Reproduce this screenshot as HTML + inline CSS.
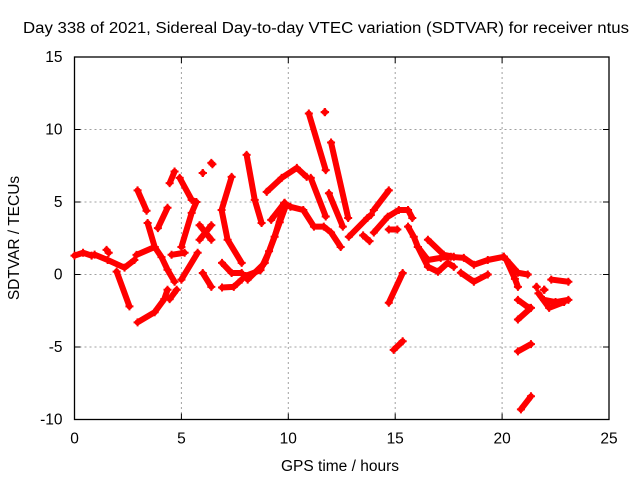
<!DOCTYPE html>
<html><head><meta charset="utf-8"><style>
body{margin:0;background:#fff}
svg{display:block;font-family:"Liberation Sans","DejaVu Sans",sans-serif}
</style></head><body>
<svg id="chart" width="640" height="480" viewBox="0 0 640 480" xmlns="http://www.w3.org/2000/svg">
<rect width="640" height="480" fill="#fff"/>
<text x="23" y="33" font-size="15.5" textLength="606" lengthAdjust="spacingAndGlyphs" fill="#000">Day 338 of 2021, Sidereal Day-to-day VTEC variation (SDTVAR) for receiver ntus</text>
<g id="grid"></g>
<g id="axes"></g>
<g id="series"></g>
<text x="340" y="471" text-anchor="middle" font-size="15.5">GPS time / hours</text>
<text transform="translate(19,238) rotate(-90)" text-anchor="middle" font-size="15.5">SDTVAR / TECUs</text>
</svg>
<script>
const xTicks=[0,5,10,15,20,25];
const yTicks=[-10,-5,0,5,10,15];
// each track: [hour, value, hour, value, ...]
const tracks=[
[0,1.3,0.4,1.5,0.8,1.3],
[0.94,1.37,1.55,1.0,2.34,0.47,2.8,1.0],
[1.5,1.7,1.6,1.5],
[1.97,0.2,2.57,-2.2],
[2.95,5.8,3.37,4.4],
[2.95,-3.3,3.75,-2.6,4.2,-1.7,4.35,-1.05],
[4.45,-1.7,4.78,-1.05],
[3.42,3.55,3.75,1.9,4.07,1.2,4.35,0.33,4.68,-0.5],
[3.9,3.2,4.35,4.6],
[2.9,1.35,3.75,1.9],
[4.45,6.3,4.68,7.1],
[4.54,1.36,5.15,1.5],
[4.92,6.66,5.48,5.15,5.7,5.0,5.48,4.25,5.0,1.9],
[5.0,-0.35,5.76,1.5],
[5.85,3.4,6.4,2.4],
[6.4,3.4,5.85,2.4],
[6.0,7.0,6.0,7.0],
[6.4,7.7,6.45,7.6],
[6.0,0.1,6.4,-0.85],
[7.35,6.73,6.88,4.45,7.16,2.4,7.82,0.8],
[6.9,0.8,7.35,0.1,7.82,0.1],
[6.9,-0.9,7.45,-0.85,7.82,-0.35],
[8.05,8.25,8.43,5.15,8.75,3.55],
[8.1,-0.35,8.9,0.8,9.36,2.6,9.83,4.95],
[8.0,-0.1,8.7,0.3,9.1,1.6,9.6,3.6,9.9,4.8],
[8.99,5.7,9.69,6.66,10.4,7.35,10.86,6.73],
[11.05,6.66,11.75,4.0],
[9.2,3.77,9.8,4.9,10.1,4.67,10.7,4.45,11.2,3.3,11.66,3.3,12.0,2.9,12.45,1.9],
[10.96,11.1,11.75,7.2],
[11.7,11.2,11.72,11.2],
[12.0,9.1,12.8,3.9],
[11.9,5.6,12.55,3.3],
[12.83,2.6,13.7,3.9,13.86,4.1],
[13.5,2.7,13.8,2.3],
[14.0,4.45,14.7,5.8],
[14.0,2.9,14.65,3.98,15.17,4.45,15.6,4.45,15.8,3.9],
[14.7,3.1,15.1,3.1],
[14.7,-1.95,15.35,0.1],
[14.93,-5.2,15.35,-4.6],
[15.6,3.3,15.87,2.6,16.06,1.9,16.53,1.0,17.13,1.15,17.6,1.22,18.21,1.15,18.68,0.67,19.33,1.0,20.08,1.22],
[16.06,1.9,16.53,0.53,17.0,0.19,17.46,0.8,17.74,0.53],
[16.53,2.4,17.27,1.36,17.74,1.22],
[18.07,0.12,18.68,-0.5,19.33,0],
[20.08,1.22,20.74,0.12,21.2,0],
[20.2,1.0,20.6,-0.3,20.74,-0.85],
[20.74,-1.75,21.25,-2.3],
[20.74,-3.1,21.35,-2.3],
[20.74,-5.3,21.35,-4.8],
[20.88,-9.3,21.35,-8.4],
[21.96,-1.75,22.5,-1.9,23.1,-1.75],
[21.7,-1.3,22.2,-2.3,22.9,-1.9],
[22.3,-0.35,23.1,-0.5],
[21.6,-0.85,21.62,-0.85],
[21.96,-1.05,21.98,-1.05]
];
const L=74.5,R=609,T=57,B=419.5,xmin=0,xmax=25,ymin=-10,ymax=15;
const sx=h=>L+(h-xmin)/(xmax-xmin)*(R-L);
const sy=v=>B-(v-ymin)/(ymax-ymin)*(B-T);
const NS='http://www.w3.org/2000/svg';
function mk(tag,attrs,parent){const e=document.createElementNS(NS,tag);for(const k in attrs)e.setAttribute(k,attrs[k]);parent.appendChild(e);return e;}
const grid=document.getElementById('grid'),axes=document.getElementById('axes'),series=document.getElementById('series');
xTicks.forEach(t=>{
  const x=sx(t);
  if(t>xmin&&t<xmax){const g=mk('line',{x1:x,x2:x,y1:T,y2:B,stroke:'#a0a0a0','stroke-dasharray':'2,3','stroke-width':1},grid);
  
  }
  mk('line',{x1:x,x2:x,y1:B,y2:B-6,stroke:'#000'},axes);
  mk('line',{x1:x,x2:x,y1:T,y2:T+6,stroke:'#000'},axes);
  const tx=mk('text',{x:x,y:B+24,'text-anchor':'middle','font-size':15.5},axes);tx.textContent=t;
  
  
});
yTicks.forEach(t=>{
  const y=sy(t);
  if(t>ymin&&t<ymax){const g=mk('line',{x1:L,x2:R,y1:y,y2:y,stroke:'#a0a0a0','stroke-dasharray':'2,3','stroke-width':1},grid);
  
  }
  mk('line',{x1:L,x2:L+6,y1:y,y2:y,stroke:'#000'},axes);
  mk('line',{x1:R,x2:R-6,y1:y,y2:y,stroke:'#000'},axes);
  const tx=mk('text',{x:L-12,y:y+5,'text-anchor':'end','font-size':15.5},axes);tx.textContent=t;
  
  
});
const border=mk('rect',{x:L,y:T,width:R-L,height:B-T,fill:'none',stroke:'#000','stroke-width':1.3},axes);


tracks.forEach(tr=>{
  const pts=[];for(let i=0;i<tr.length;i+=2)pts.push([sx(tr[i]),sy(tr[i+1])]);
  const pl=mk('polyline',{points:pts.map(p=>p.join(',')).join(' '),fill:'none',stroke:'#f00','stroke-width':6,'stroke-linecap':'round','stroke-linejoin':'round'},series);
  
  
  pts.forEach(p=>{
    const m=mk('path',{d:`M${p[0]-4},${p[1]}h8M${p[0]},${p[1]-4}v8`,stroke:'#f00','stroke-width':2},series);
    
    
  });
});
</script>
</body></html>
